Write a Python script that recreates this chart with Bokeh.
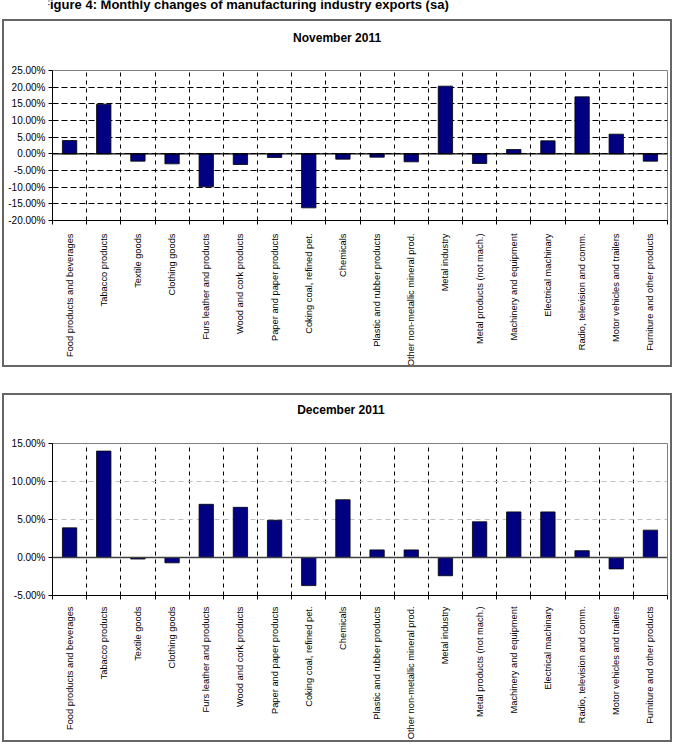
from bokeh.plotting import figure
from bokeh.layouts import column
from bokeh.models import (Range1d, FixedTicker, CustomJSTickFormatter,
                          PrintfTickFormatter, Span, Label, Title)
from bokeh.embed import file_html
from bokeh.resources import INLINE

FONT = "Liberation Sans"

main_title = "Figure 4: Monthly changes of manufacturing industry exports (sa)"

categories = [
    "Food products and beverages",
    "Tabacco products",
    "Textile goods",
    "Clothing goods",
    "Furs leather and products",
    "Wood and cork products",
    "Paper and paper products",
    "Coking coal, refined pet.",
    "Chemicals",
    "Plastic and rubber products",
    "Other non-metallic mineral prod.",
    "Metal industry",
    "Metal products (not mach.)",
    "Machinery and equipment",
    "Electrical machinary",
    "Radio, television and comm.",
    "Motor vehicles and trailers",
    "Furniture and other products",
]

# monthly change, percent
nov_2011 = [4.0, 14.9, -2.2, -3.0, -9.9, -3.2, -1.1, -16.2, -1.6,
            -1.0, -2.4, 20.3, -2.9, 1.3, 3.9, 17.1, 5.9, -2.2]
dec_2011 = [3.9, 14.0, -0.2, -0.7, 7.0, 6.6, 4.9, -3.7, 7.6,
            1.0, 1.0, -2.4, 4.7, 6.0, 6.0, 0.9, -1.5, 3.6]

nov_ticks = [-20, -15, -10, -5, 0, 5, 10, 15, 20, 25]
dec_ticks = [-5, 0, 5, 10, 15]

BAR_COLOR = "#000080"
BOX_STYLE = {"border": "2px solid #666666", "box-sizing": "border-box"}


def bar_chart(title, values, y_ticks, hgrid_color, hgrid_dash, zero_color,
              width, height, borders, title_gap, title_left, label_standoff,
              margin):
    n = len(categories)
    centers = [i + 0.5 for i in range(n)]
    bounds = list(range(n + 1))
    left, right, top, bottom = borders

    p = figure(width=width, height=height, output_backend="svg",
               toolbar_location=None,
               x_range=Range1d(0, n),
               y_range=Range1d(y_ticks[0], y_ticks[-1]),
               min_border_left=left, min_border_right=right,
               min_border_top=top, min_border_bottom=bottom,
               styles=BOX_STYLE, margin=margin)
    p.background_fill_color = "white"
    p.border_fill_color = "white"
    p.outline_line_color = "#808080"
    p.outline_line_width = 1

    p.title.text = title
    p.title.align = "left"
    p.title.offset = title_left
    p.title.vertical_align = "middle"
    p.title.standoff = 0
    p.title.text_font = FONT
    p.title.text_font_size = "12px"
    p.title.text_font_style = "bold"
    p.title.text_color = "black"
    # empty strip between the heading and the plot area
    p.add_layout(Title(text=" ", text_font_size="1px", standoff=title_gap),
                 "above")

    p.vbar(x=centers, top=values, bottom=0, width=0.42,
           fill_color=BAR_COLOR, line_color="black", line_width=0.8)

    p.add_layout(Span(location=0, dimension="width", line_color=zero_color,
                      line_width=1.3))

    # y axis
    yax = p.yaxis[0]
    yax.ticker = FixedTicker(ticks=y_ticks)
    yax.formatter = PrintfTickFormatter(format="%.2f%%")
    yax.major_label_text_font = FONT
    yax.major_label_text_font_size = "10px"
    yax.major_label_text_color = "black"
    yax.major_tick_out = 4
    yax.major_tick_in = 0
    yax.minor_tick_line_color = None
    yax.major_label_standoff = 3
    yax.axis_line_color = "black"

    # x axis: labels at category centres, ticks at category boundaries
    xax = p.xaxis[0]
    xax.ticker = FixedTicker(ticks=centers, minor_ticks=bounds)
    xax.formatter = CustomJSTickFormatter(
        args=dict(names=categories),
        code="return names[Math.round(tick - 0.5)];")
    xax.major_label_orientation = 3.14159265 / 2
    xax.major_label_text_font = FONT
    xax.major_label_text_font_size = "9.3px"
    xax.major_label_text_color = "black"
    xax.major_tick_in = 0
    xax.major_tick_out = 0
    xax.minor_tick_in = 0
    xax.minor_tick_out = 4
    xax.minor_tick_line_color = "black"
    xax.major_label_standoff = label_standoff
    xax.axis_line_color = "black"

    p.xgrid.ticker = FixedTicker(ticks=bounds[1:-1])
    p.xgrid.grid_line_color = "black"
    p.xgrid.grid_line_dash = "4 4"
    p.xgrid.grid_line_width = 1

    p.ygrid.ticker = FixedTicker(ticks=y_ticks[1:])
    p.ygrid.grid_line_color = hgrid_color
    p.ygrid.grid_line_dash = hgrid_dash
    p.ygrid.grid_line_width = 1
    return p


# heading strip
head = figure(width=675, height=19, output_backend="svg",
              toolbar_location=None, x_range=Range1d(0, 675),
              y_range=Range1d(19, 0), x_axis_location=None,
              y_axis_location=None, min_border=0)
head.outline_line_color = None
head.grid.grid_line_color = None
head.add_layout(Label(x=-7, y=3.5, text=main_title, text_font=FONT,
                      text_font_size="13px", text_font_style="bold",
                      text_baseline="alphabetic", text_color="black"))

nov = bar_chart("November 2011", nov_2011, nov_ticks, "black", "6 3", "black",
                670, 348, (48, 7, 49, 148), 21.5, 240.6, 9, (0, 0, 0, 2))
dec = bar_chart("December 2011", dec_2011, dec_ticks, "#c0c0c0", "5 4", "#404040",
                670, 349, (44, 5, 48, 149), 23, 244.7, 7, (26, 0, 0, 2))

layout = column(head, nov, dec, spacing=0)

with open("out.html", "w") as f:
    f.write(file_html(layout, INLINE))
